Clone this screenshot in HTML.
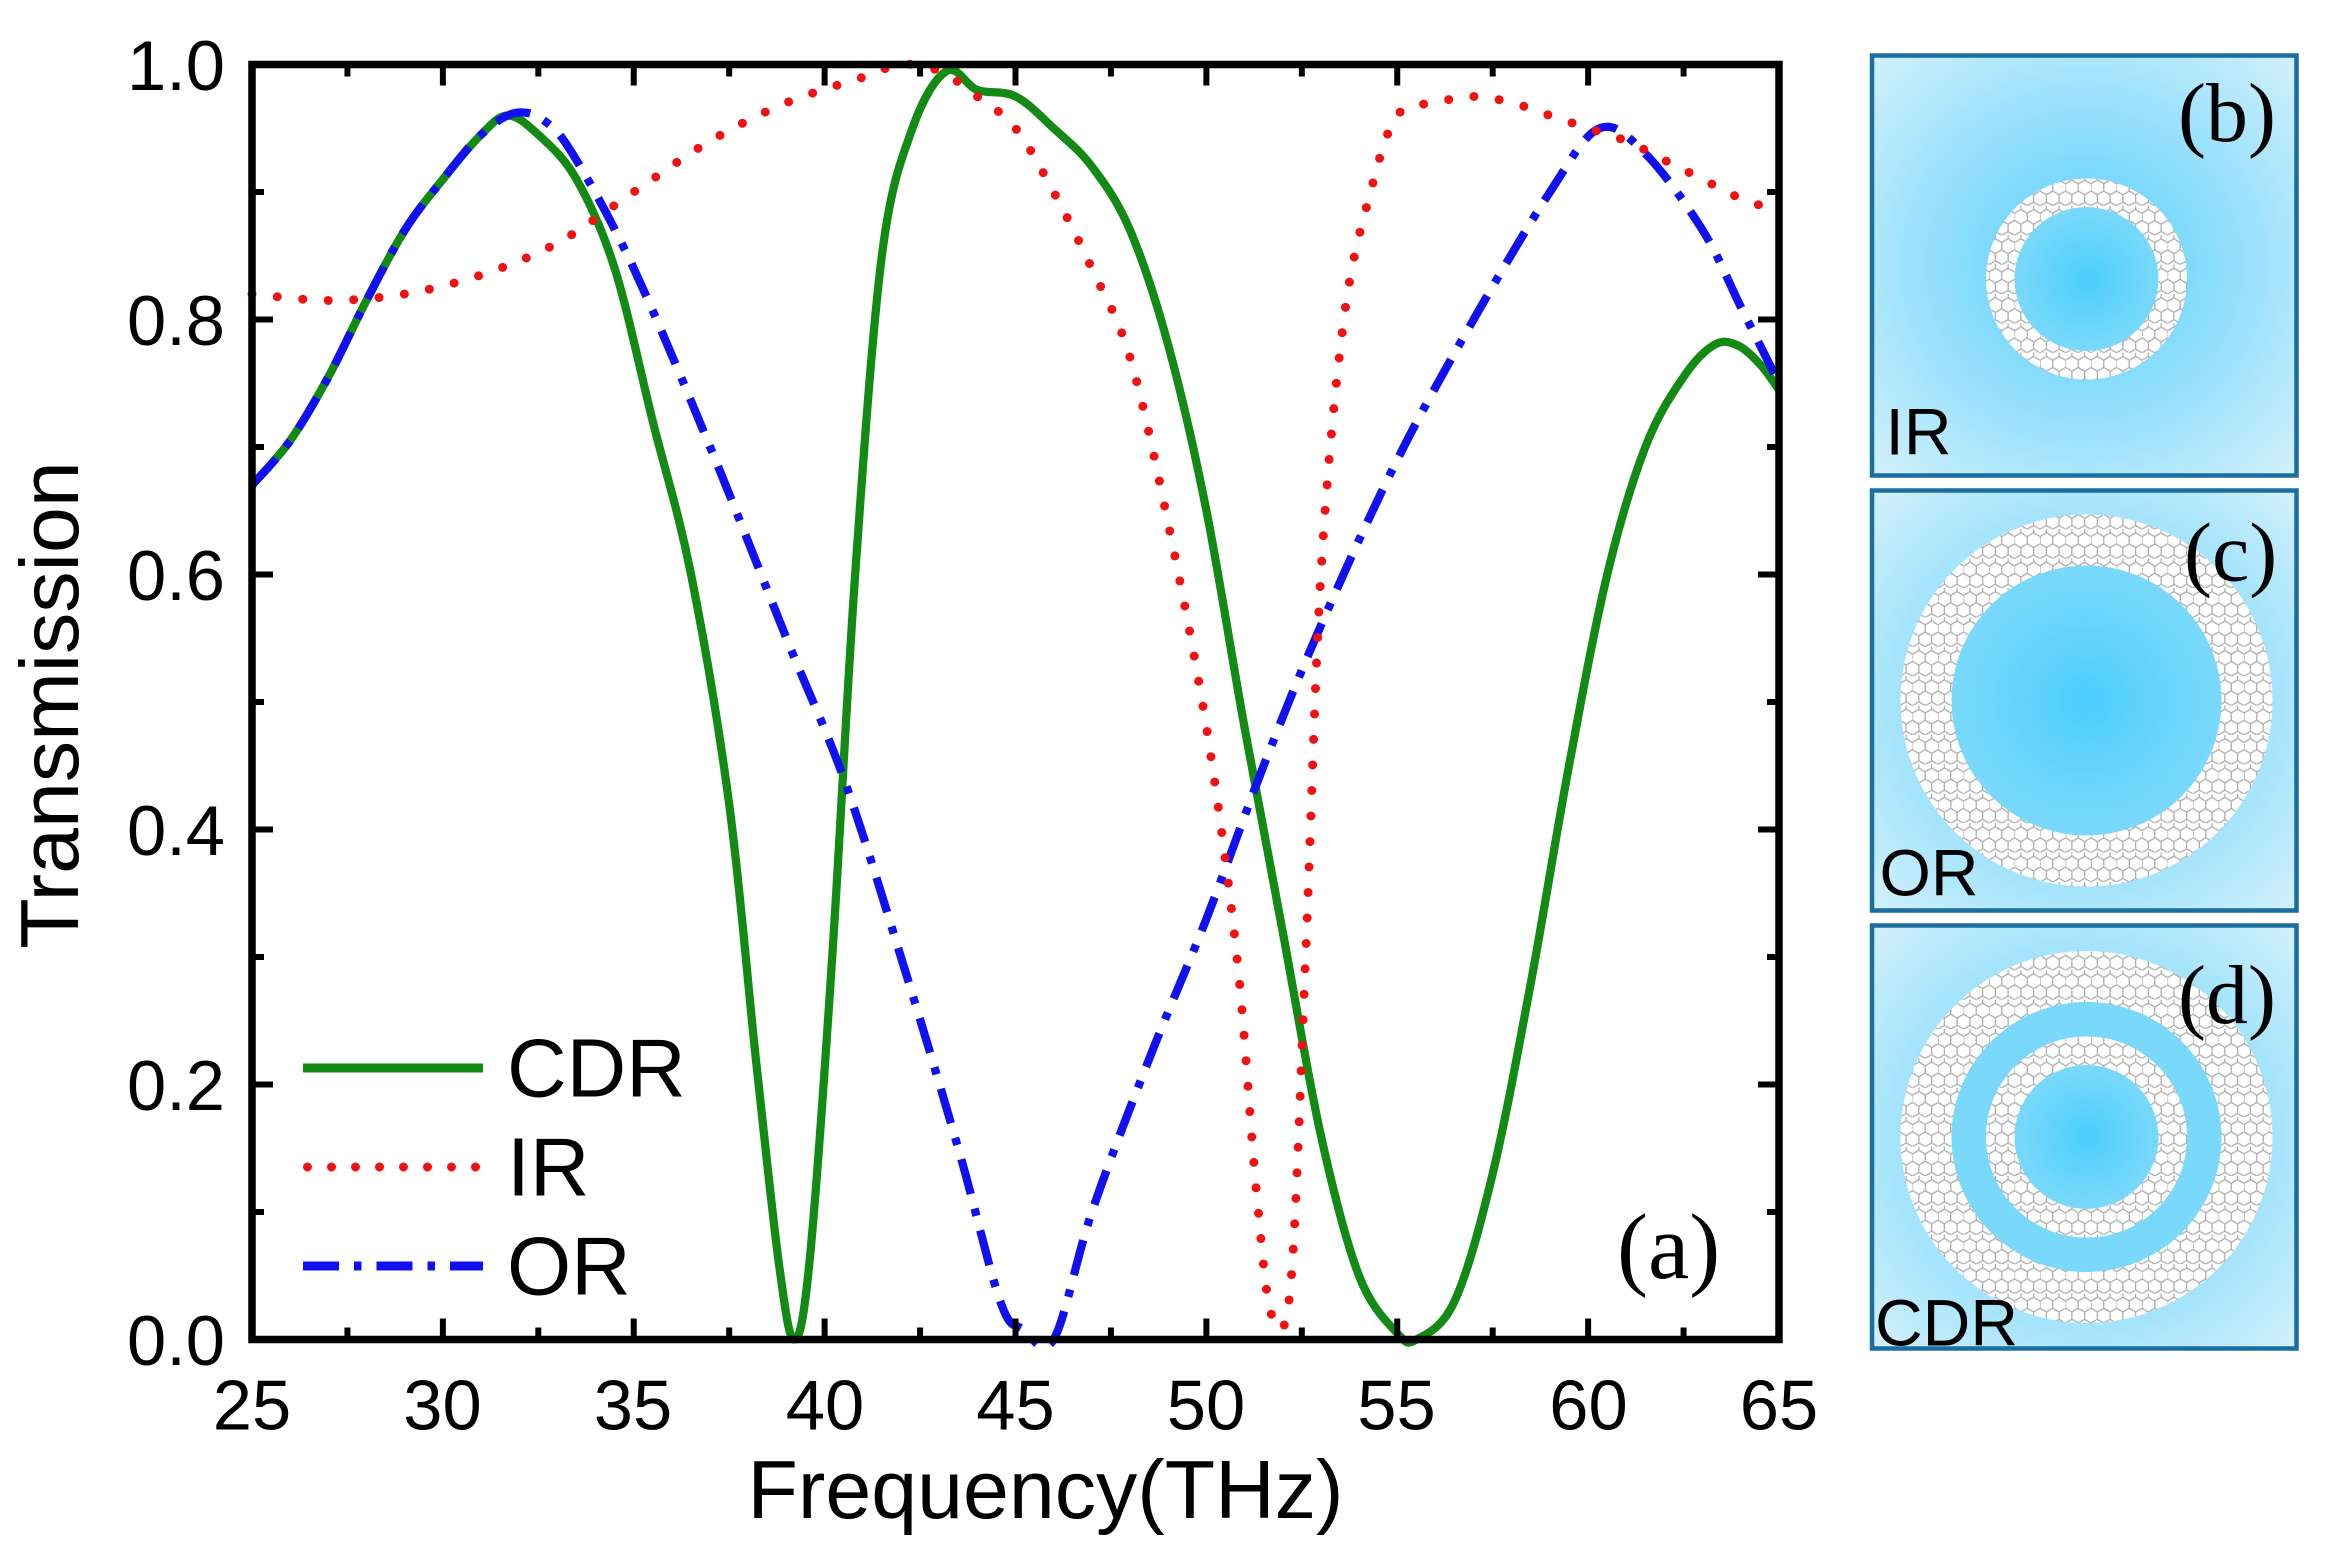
<!DOCTYPE html>
<html><head><meta charset="utf-8">
<style>
html,body{margin:0;padding:0;background:#fff;}
svg{display:block;}
text{font-family:"Liberation Sans",sans-serif;fill:#000;}
.serif{font-family:"Liberation Serif",serif;}
</style></head>
<body>
<svg id="s" width="2346" height="1557" viewBox="0 0 1564 1038" xmlns="http://www.w3.org/2000/svg">
<defs>
<radialGradient id="bg" cx="50%" cy="50%" r="70%">
<stop offset="0" stop-color="#55cffc"/>
<stop offset="1" stop-color="#d2f0fc"/>
</radialGradient>
<radialGradient id="core" cx="50%" cy="50%" r="50%">
<stop offset="0" stop-color="#4ccdfc"/>
<stop offset="1" stop-color="#7ad9fb"/>
</radialGradient>
<pattern id="hex" width="17" height="19.6" patternUnits="userSpaceOnUse">
<rect width="17" height="19.6" fill="#fff"/>
<path d="M0 4.9 L4.25 2.45 L8.5 4.9 L8.5 9.8 L4.25 12.25 L0 9.8 Z M8.5 4.9 L12.75 2.45 L17 4.9 M8.5 9.8 L12.75 12.25 L17 9.8 M4.25 12.25 L4.25 17.15 M12.75 12.25 L12.75 17.15 M4.25 2.45 L4.25 0 M12.75 2.45 L12.75 0 M4.25 17.15 L0 19.6 M4.25 17.15 L8.5 19.6 M12.75 17.15 L8.5 19.6 M12.75 17.15 L17 19.6" fill="none" stroke="#b0b0b0" stroke-width="0.9"/>
</pattern>
</defs>
<g id="curves"></g>
<rect x="168" y="43" width="1018" height="850" fill="none" stroke="#000" stroke-width="5"/>
<g id="ticks" stroke="#000" stroke-width="4"></g>
<g font-size="47" text-anchor="end">
<text x="150" y="60">1.0</text>
<text x="150" y="230">0.8</text>
<text x="150" y="400">0.6</text>
<text x="150" y="570">0.4</text>
<text x="150" y="740">0.2</text>
<text x="150" y="910">0.0</text>
</g>
<g font-size="47" text-anchor="middle">
<text x="168" y="953">25</text><text x="295" y="953">30</text><text x="422" y="953">35</text>
<text x="550" y="953">40</text><text x="677" y="953">45</text><text x="804" y="953">50</text>
<text x="931" y="953">55</text><text x="1059" y="953">60</text><text x="1186" y="953">65</text>
</g>
<text x="697" y="1012" font-size="55" text-anchor="middle">Frequency(THz)</text>
<text transform="translate(52,470) rotate(-90)" font-size="55" text-anchor="middle">Transmission</text>
<line x1="202" y1="712" x2="322" y2="712" stroke="#138a13" stroke-width="6"/>
<line x1="205" y1="778" x2="322" y2="778" stroke="#f21010" stroke-width="6" stroke-linecap="round" stroke-dasharray="0 16"/>
<line x1="202" y1="844" x2="322" y2="844" stroke="#1010f0" stroke-width="6" stroke-dasharray="24 10 5 10"/>
<text x="338" y="731" font-size="55">CDR</text>
<text x="338" y="797" font-size="55">IR</text>
<text x="338" y="863" font-size="55">OR</text>
<text x="1078" y="852" font-size="62" class="serif">(a)</text>
<g stroke="#1a6ea0" stroke-width="3">
<rect x="1248" y="37" width="283" height="280" fill="url(#bg)"/>
<rect x="1248" y="327" width="283" height="280" fill="url(#bg)"/>
<rect x="1248" y="617" width="283" height="282" fill="url(#bg)"/>
</g>
<circle cx="1391" cy="186" r="67" fill="url(#hex)"/>
<circle cx="1391" cy="186" r="48" fill="url(#core)"/>
<circle cx="1391" cy="467" r="124" fill="url(#hex)"/>
<circle cx="1391" cy="467" r="90" fill="url(#core)"/>
<circle cx="1391" cy="758" r="124" fill="url(#hex)"/>
<circle cx="1391" cy="758" r="90" fill="#7ad9fb"/>
<circle cx="1391" cy="758" r="67" fill="url(#hex)"/>
<circle cx="1391" cy="758" r="48" fill="url(#core)"/>
<text x="1452" y="94" font-size="56" class="serif">(b)</text>
<text x="1456" y="387" font-size="56" class="serif">(c)</text>
<text x="1452" y="682" font-size="56" class="serif">(d)</text>
<text x="1257" y="303" font-size="44">IR</text>
<text x="1253" y="597" font-size="44">OR</text>
<text x="1250" y="897" font-size="44">CDR</text>
</svg>
<script>
const X=f=>168+(f-25)*25.45, Y=t=>893-t*850;
function path(pts){
 const p=pts.map(a=>[X(a[0]),Y(a[1])]);
 let d="M"+p[0][0].toFixed(1)+" "+p[0][1].toFixed(1);
 for(let i=0;i<p.length-1;i++){
  const p0=p[i-1]||p[i],p1=p[i],p2=p[i+1],p3=p[i+2]||p[i+1];
  const c1=[p1[0]+(p2[0]-p0[0])/6,p1[1]+(p2[1]-p0[1])/6];
  const c2=[p2[0]-(p3[0]-p1[0])/6,p2[1]-(p3[1]-p1[1])/6];
  d+=` C${c1[0].toFixed(1)} ${c1[1].toFixed(1)} ${c2[0].toFixed(1)} ${c2[1].toFixed(1)} ${p2[0].toFixed(1)} ${p2[1].toFixed(1)}`;
 }
 return d;
}
const cdr=[[25,0.67],[26,0.705],[27,0.755],[28,0.815],[29,0.87],[30,0.91],[31,0.945],[31.7,0.96],[32.5,0.945],[33.5,0.91],[34.5,0.84],[35.5,0.72],[36.5,0.6],[37.5,0.42],[38.2,0.22],[38.8,0.06],[39.2,0.0],[39.6,0.06],[40.2,0.3],[40.8,0.6],[41.5,0.85],[42.3,0.95],[43.2,0.995],[44,0.98],[45,0.975],[46,0.95],[47,0.92],[48,0.87],[49,0.78],[50,0.65],[51,0.48],[52,0.32],[53,0.16],[54,0.05],[55,0.005],[55.5,0.0],[56.5,0.03],[57.5,0.13],[58.5,0.28],[59.5,0.45],[60.5,0.6],[61.5,0.7],[62.5,0.755],[63.3,0.78],[63.9,0.78],[64.5,0.765],[65,0.745]];
const ir=[[25,0.82],[27,0.815],[29,0.82],[31,0.835],[33,0.86],[35,0.9],[37,0.94],[39,0.97],[41,0.99],[42,1.0],[43,0.995],[44,0.975],[45,0.95],[46,0.9],[47,0.84],[48,0.77],[49,0.64],[50,0.48],[50.8,0.3],[51.3,0.12],[51.7,0.02],[52.2,0.04],[52.6,0.3],[53,0.6],[53.6,0.8],[54.3,0.9],[55,0.96],[56,0.97],[57,0.975],[58,0.97],[59,0.96],[60,0.95],[61,0.94],[62,0.925],[63,0.91],[64,0.895],[65,0.885]];
const or=[[25,0.67],[26,0.705],[27,0.755],[28,0.815],[29,0.87],[30,0.91],[31,0.945],[31.9,0.962],[32.7,0.955],[33.5,0.925],[35,0.84],[37,0.7],[39,0.55],[40.5,0.44],[42,0.3],[43.5,0.15],[44.6,0.03],[45.2,0.008],[46,0.0],[47,0.1],[48.5,0.22],[50,0.33],[51.5,0.45],[53,0.56],[55,0.69],[57,0.8],[59,0.9],[60.3,0.95],[61.5,0.93],[63,0.87],[64,0.81],[65,0.75]];
const g=document.getElementById('curves');
g.innerHTML=
`<path d="${path(cdr)}" fill="none" stroke="#138a13" stroke-width="5.5"/>`+
`<path d="${path(or)}" fill="none" stroke="#1010f0" stroke-width="5.5" stroke-dasharray="24 10 5 10"/>`+
`<path d="${path(ir)}" fill="none" stroke="#f21010" stroke-width="6" stroke-linecap="round" stroke-dasharray="0 17"/>`;
let t="";
for(let f=25;f<=65.01;f+=2.5){const x=X(f),L=(f%5==0)?14:8;t+=`<line x1="${x}" y1="893" x2="${x}" y2="${893-L}"/><line x1="${x}" y1="43" x2="${x}" y2="${43+L}"/>`;}
for(let v=0;v<=1.001;v+=0.1){const y=Y(v),L=(Math.round(v*10)%2==0)?14:8;t+=`<line x1="168" y1="${y}" x2="${168+L}" y2="${y}"/><line x1="1186" y1="${y}" x2="${1186-L}" y2="${y}"/>`;}
document.getElementById('ticks').innerHTML=t;
</script>
</body></html>
